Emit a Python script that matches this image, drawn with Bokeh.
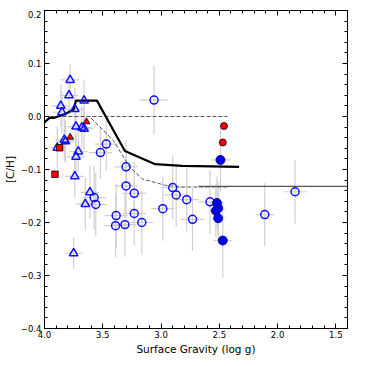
from bokeh.plotting import figure
from bokeh.models import Range1d, LinearAxis, SingleIntervalTicker, CustomJSTickFormatter, ColumnDataSource
from bokeh.embed import file_html
from bokeh.resources import INLINE

# Open blue triangles
tri_x = [3.78, 3.79, 3.86, 3.85, 3.74, 3.66, 3.73, 3.68, 3.66, 3.83, 3.82, 3.89, 3.71, 3.73, 3.74, 3.61, 3.65, 3.75]
tri_y = [0.069, 0.040, 0.020, 0.008, 0.014, 0.030, -0.019, -0.021, -0.023, -0.044, -0.047, -0.059, -0.066, -0.076, -0.113, -0.143, -0.165, -0.258]
tri_xe = [0.08, 0.08, 0.08, 0.08, 0.08, 0.08, 0.08, 0.08, 0.08, 0.08, 0.08, 0.06, 0.08, 0.08, 0.08, 0.08, 0.08, 0.08]
tri_ye = [0.03, 0.04, 0.04, 0.04, 0.04, 0.04, 0.04, 0.04, 0.04, 0.04, 0.04, 0.04, 0.04, 0.04, 0.04, 0.05, 0.05, 0.03]

# Open blue circles
cir_x = [3.06, 3.47, 3.52, 3.30, 3.574, 3.56, 3.30, 3.23, 3.385, 3.39, 3.31, 3.23, 3.165, 2.985, 2.90, 2.87, 2.78, 2.73, 2.58, 2.11, 1.85]
cir_y = [0.031, -0.052, -0.068, -0.095, -0.153, -0.166, -0.131, -0.145, -0.187, -0.206, -0.204, -0.183, -0.200, -0.174, -0.134, -0.148, -0.157, -0.194, -0.161, -0.185, -0.142]
cir_xe = [0.12, 0.10, 0.10, 0.10, 0.10, 0.10, 0.10, 0.10, 0.10, 0.10, 0.10, 0.10, 0.10, 0.10, 0.10, 0.10, 0.10, 0.10, 0.10, 0.08, 0.10]
cir_ye = [0.065, 0.05, 0.05, 0.05, 0.06, 0.06, 0.06, 0.06, 0.06, 0.06, 0.06, 0.06, 0.06, 0.06, 0.06, 0.06, 0.06, 0.06, 0.06, 0.06, 0.06]

# Filled blue circles
fb_x = [2.49, 2.52, 2.51, 2.53, 2.51, 2.47]
fb_y = [-0.082, -0.163, -0.173, -0.178, -0.192, -0.234]
fb_xe = [0.08, 0.06, 0.06, 0.06, 0.06, 0.08]
fb_ye = [0.06, 0.05, 0.05, 0.05, 0.05, 0.07]

# Red points
rc_x = [2.46, 2.47]
rc_y = [-0.018, -0.049]
rt_x = [3.78, 3.64]
rt_y = [-0.039, -0.010]
rs_x = [3.87, 3.91]
rs_y = [-0.059, -0.109]

# Model curves
model_x = [4.0, 3.96, 3.91, 3.82, 3.78, 3.75, 3.73, 3.55, 3.31, 3.05, 2.82, 2.33]
model_y = [-0.011, -0.003, -0.002, 0.005, 0.010, 0.013, 0.030, 0.030, -0.065, -0.090, -0.093, -0.095]
zero_x = [4.0, 2.43]
zero_y = [0.0, 0.0]
dash_x = [3.60, 3.41, 3.27, 3.16, 2.96, 2.82, 2.6, 2.43]
dash_y = [-0.003, -0.045, -0.095, -0.118, -0.130, -0.133, -0.133, -0.133]
flat_x = [2.68, 1.4]
flat_y = [-0.132, -0.132]

p = figure(frame_width=303, frame_height=318, x_range=Range1d(4.0, 1.4), y_range=Range1d(-0.4, 0.2),
           output_backend="svg", toolbar_location=None,
           min_border_left=33, min_border_right=6, min_border_top=0, min_border_bottom=4)
p.margin = (10, 0, 0, 0)
p.grid.visible = False
p.outline_line_color = "black"
p.background_fill_color = "white"

def err_source(xs, ys, xe, ye):
    return ColumnDataSource(dict(x=xs, y=ys, xl=[a - b for a, b in zip(xs, xe)], xh=[a + b for a, b in zip(xs, xe)],
                                 yl=[a - b for a, b in zip(ys, ye)], yh=[a + b for a, b in zip(ys, ye)]))

for xs, ys, xe, ye in [(tri_x, tri_y, tri_xe, tri_ye), (cir_x, cir_y, cir_xe, cir_ye), (fb_x, fb_y, fb_xe, fb_ye)]:
    s = err_source(xs, ys, xe, ye)
    p.segment(x0="xl", y0="y", x1="xh", y1="y", source=s, line_color="#d0d0d0", line_width=1.2)
    p.segment(x0="x", y0="yl", x1="x", y1="yh", source=s, line_color="#d0d0d0", line_width=1.2)

p.line(zero_x, zero_y, line_color="#555555", line_width=1, line_dash="4 2")
p.line(dash_x, dash_y, line_color="#555555", line_width=1, line_dash="4 2")
p.line(flat_x, flat_y, line_color="#555555", line_width=1.2)
p.line(model_x, model_y, line_color="black", line_width=2.2)

p.scatter(tri_x, tri_y, marker="triangle", size=8.5, fill_color=None, line_color="#1010ff", line_width=1.5)
p.scatter(cir_x, cir_y, marker="circle", size=8, fill_color=None, line_color="#1010ff", line_width=1.5)
p.scatter(fb_x, fb_y, marker="circle", size=9, fill_color="#0000ee", line_color="#000080", line_width=0.8)
p.scatter(rt_x, rt_y, marker="triangle", size=7, fill_color="red", line_color="black", line_width=0.8)
p.scatter(rs_x, rs_y, marker="square", size=6.5, fill_color="red", line_color="black", line_width=0.8)
p.scatter(rc_x, rc_y, marker="circle", size=7, fill_color="red", line_color="black", line_width=0.8)

fmt = CustomJSTickFormatter(code="""
if (Math.abs(tick) < 1e-9) { tick = 0; }
return (tick < 0 ? "\u2212" : "") + Math.abs(tick).toFixed(1);
""")
blank = CustomJSTickFormatter(code='return "";')

def style(ax, labels=True):
    ax.major_tick_in = 5
    ax.major_tick_out = 0
    ax.minor_tick_in = 3
    ax.minor_tick_out = 0
    ax.axis_line_color = "black"
    ax.major_tick_line_color = "black"
    ax.minor_tick_line_color = "black"
    if labels:
        ax.formatter = fmt
        ax.major_label_text_font = "DejaVu Sans"
        ax.major_label_text_font_size = "8.5px"
        ax.major_label_text_color = "black"
        ax.major_label_standoff = 3
        ax.axis_label_text_font = "DejaVu Sans"
        ax.axis_label_text_font_size = "10.5px"
        ax.axis_label_text_font_style = "normal"
        ax.axis_label_text_color = "black"
        ax.axis_label_standoff = 2
    else:
        ax.formatter = blank
        ax.major_label_standoff = 0

p.xaxis[0].ticker = SingleIntervalTicker(interval=0.5, num_minor_ticks=5)
p.yaxis[0].ticker = SingleIntervalTicker(interval=0.1, num_minor_ticks=5)
p.xaxis[0].axis_label = "Surface Gravity (log g)"
p.yaxis[0].axis_label = "[C/H]"
style(p.xaxis[0])
style(p.yaxis[0])
p.xaxis[0].major_label_standoff = 2
p.xaxis[0].axis_label_standoff = 2

top = LinearAxis(ticker=SingleIntervalTicker(interval=0.5, num_minor_ticks=5))
right = LinearAxis(ticker=SingleIntervalTicker(interval=0.1, num_minor_ticks=5))
style(top, labels=False)
style(right, labels=False)
p.add_layout(top, "above")
p.add_layout(right, "right")

open("out.html", "w").write(file_html(p, INLINE))
